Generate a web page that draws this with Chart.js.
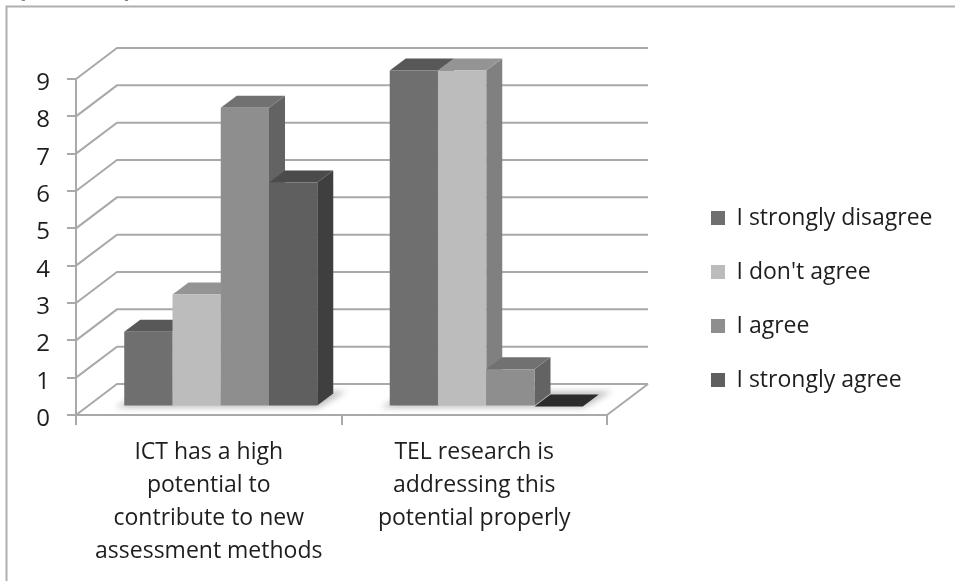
<!DOCTYPE html>
<html>
<head>
  <title>Assessment survey</title>
  <script src="https://cdn.jsdelivr.net/npm/chart.js"></script>
  <style>
    html, body { margin: 0; background: #fff; }
    canvas { display: block; }
  </style>
</head>
<body>
  <canvas id="chart" width="955" height="581"></canvas>

  <script>
    const categories = [
      ["ICT has a high", "potential to", "contribute to new", "assessment methods"],
      ["TEL research is", "addressing this", "potential properly"]
    ];
    const seriesNames = ["I strongly disagree", "I don't agree", "I agree", "I strongly agree"];
    const stronglyDisagree = [2, 9];
    const dontAgree = [3, 9];
    const agree = [8, 1];
    const stronglyAgree = [6, 0];

    const seriesValues = [stronglyDisagree, dontAgree, agree, stronglyAgree];
    const frontColors = ["#6f6f6f", "#bcbcbc", "#8e8e8e", "#5f5f5f"];
    const topColors = ["#585858", "#949494", "#717171", "#4b4b4b"];
    const sideColors = ["#555555", "#808080", "#636363", "#3f3f3f"];

    const gridColor = "#a9a9a9";
    const textColor = "#1e1e1e";
    const fontFamily = "Open Sans";

    // bars stand a little way in from the front edge of the floor
    const barShift = { x: 12, y: -8.5 };
    const barDepth = { x: 16, y: -12 };
    const wallDepth = { x: 41, y: -31 };

    function polygon(ctx, points, color) {
      ctx.fillStyle = color;
      ctx.beginPath();
      points.forEach((p, i) => i ? ctx.lineTo(p[0], p[1]) : ctx.moveTo(p[0], p[1]));
      ctx.closePath();
      ctx.fill();
    }

    // outer frame, running off the top right of the page, and the tail of the heading above it
    const frame = {
      id: "frame",
      beforeDraw(chart) {
        const ctx = chart.ctx;
        ctx.save();
        ctx.strokeStyle = "#b0b0b0";
        ctx.lineWidth = 2;
        ctx.beginPath();
        ctx.moveTo(6.5, 581);
        ctx.lineTo(6.5, 6.5);
        ctx.lineTo(955, 6.5);
        ctx.stroke();
        ctx.fillStyle = "#000";
        ctx.font = "bold 26px " + fontFamily;
        ctx.fillText("(", 17, -4);
        ctx.fillText(")", 124, -4);
        ctx.restore();
      }
    };

    // receding walls, floor and the soft shadow under each group of bars
    const walls = {
      id: "walls",
      beforeDatasetsDraw(chart) {
        const ctx = chart.ctx;
        const y = chart.scales.y;
        const area = chart.chartArea;
        ctx.save();
        ctx.strokeStyle = gridColor;
        ctx.lineWidth = 2;
        y.ticks.forEach(tick => {
          const py = y.getPixelForValue(tick.value);
          ctx.beginPath();
          ctx.moveTo(area.left, py);
          ctx.lineTo(area.left + wallDepth.x, py + wallDepth.y);
          ctx.lineTo(area.right + wallDepth.x, py + wallDepth.y);
          ctx.stroke();
        });
        ctx.beginPath();
        ctx.moveTo(area.right, area.bottom);
        ctx.lineTo(area.right + wallDepth.x, area.bottom + wallDepth.y);
        ctx.stroke();

        const first = chart.getDatasetMeta(0).data;
        const last = chart.getDatasetMeta(seriesValues.length - 1).data;
        ctx.filter = "blur(3px)";
        first.forEach((bar, i) => {
          const left = bar.x - bar.width / 2 + barShift.x;
          const right = last[i].x + last[i].width / 2 + barShift.x;
          const base = bar.base + barShift.y;
          polygon(ctx, [
            [left - 9, base + 2],
            [right + 1, base + 2],
            [right + 29, base - 14],
            [left + 20, base - 14]
          ], "#bdbdbd");
        });
        ctx.restore();
      }
    };

    // Chart.js paints the last dataset first, which is backwards for bars with
    // depth, so each series is painted here left to right: side, top, then front
    const bars3d = {
      id: "bars3d",
      beforeDatasetDraw() {
        return false;
      },
      afterDatasetsDraw(chart) {
        const ctx = chart.ctx;
        seriesValues.forEach((values, i) => {
          const meta = chart.getDatasetMeta(i);
          ctx.save();
          ctx.translate(barShift.x, barShift.y);
          meta.data.forEach((bar, k) => {
            const l = bar.x - bar.width / 2;
            const r = bar.x + bar.width / 2;
            const dx = barDepth.x, dy = barDepth.y;
            const flat = values[k] === 0;
            if (!flat) {
              polygon(ctx, [[r, bar.y], [r + dx, bar.y + dy], [r + dx, bar.base + dy], [r, bar.base]], sideColors[i]);
            }
            polygon(ctx, [[l, bar.y], [l + dx, bar.y + dy], [r + dx, bar.y + dy], [r, bar.y]], flat ? "#2c2c2c" : topColors[i]);
          });
          meta.controller.draw();
          ctx.restore();
        });
      }
    };

    // the legend takes no layout room, so the plot keeps its own width
    const placeLegend = {
      id: "placeLegend",
      afterLayout(chart) {
        const legend = chart.legend;
        legend.left = 680;
        legend.right = legend.left + legend.width;
        legend.top = 299 - legend.height / 2;
        legend.bottom = legend.top + legend.height;
      }
    };

    new Chart(document.getElementById("chart"), {
      type: "bar",
      data: {
        labels: categories,
        datasets: seriesNames.map((name, i) => ({
          label: name,
          data: seriesValues[i],
          backgroundColor: frontColors[i],
          borderWidth: 0
        }))
      },
      plugins: [frame, walls, bars3d, placeLegend],
      options: {
        responsive: false,
        animation: false,
        layout: { padding: { top: 79, right: 348, left: 0, bottom: 0 } },
        datasets: { bar: { barPercentage: 1, categoryPercentage: 0.727 } },
        scales: {
          x: {
            offset: true,
            afterFit(scale) { scale.height = 166; },
            border: { color: gridColor, width: 2 },
            grid: { drawOnChartArea: false, offset: true, color: gridColor, lineWidth: 2, tickLength: 10 },
            ticks: {
              color: textColor,
              autoSkip: false,
              maxRotation: 0,
              padding: 11,
              font: { family: fontFamily, size: 23, lineHeight: 1.435 }
            }
          },
          y: {
            min: 0,
            max: 9,
            afterFit(scale) { scale.width = 76; },
            border: { color: gridColor, width: 2 },
            grid: { drawOnChartArea: false, color: gridColor, lineWidth: 2, tickLength: 9 },
            ticks: {
              stepSize: 1,
              color: textColor,
              padding: 17,
              labelOffset: 4,
              font: { family: fontFamily, size: 24 }
            }
          }
        },
        plugins: {
          tooltip: { enabled: false },
          legend: {
            position: "chartArea",
            align: "center",
            labels: {
              color: textColor,
              boxWidth: 14,
              boxHeight: 14,
              padding: 31,
              font: { family: fontFamily, size: 23 }
            }
          }
        }
      }
    });
  </script>
</body>
</html>
